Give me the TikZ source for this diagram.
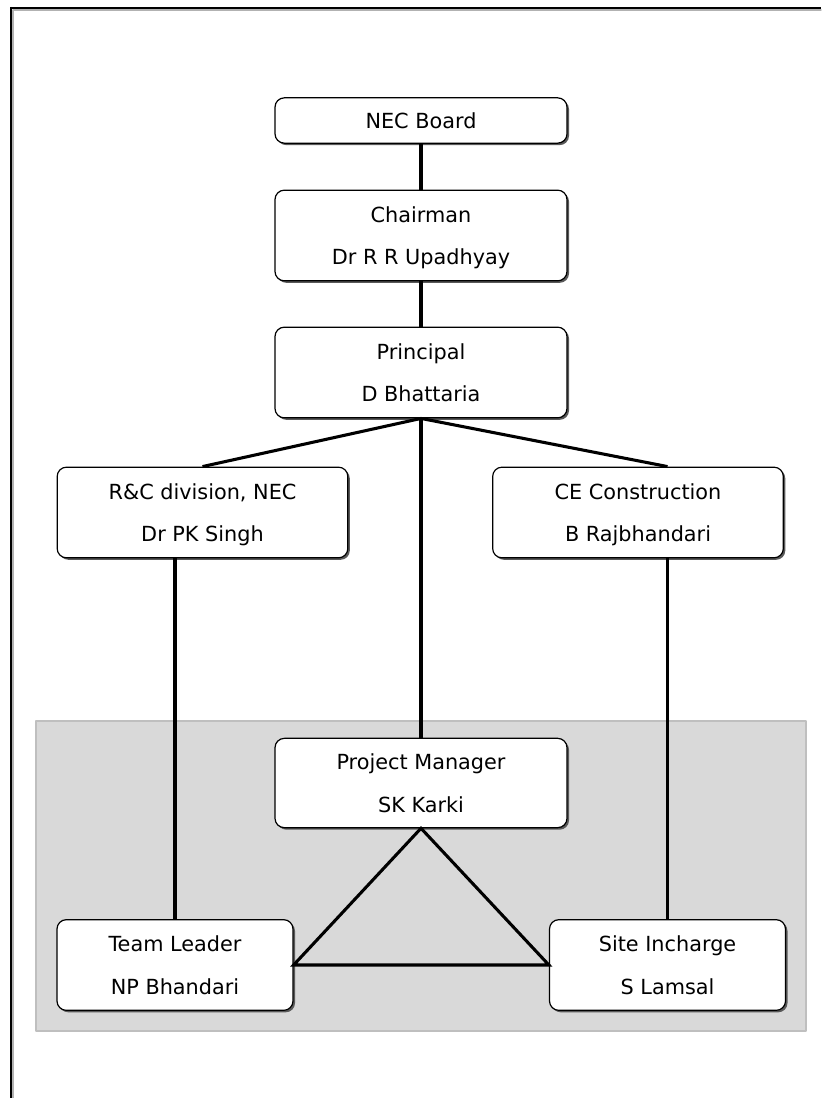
\documentclass[tikz,border=0pt]{standalone}
\usepackage{fontspec}
\setmainfont{DejaVu Sans}
\usetikzlibrary{shadows}
\begin{document}
\begin{tikzpicture}[x=.75pt,y=-.75pt,line join=round,line cap=round,
		font=\fontsize{15.6}{32}\selectfont,
		box/.style={draw,line width=.9pt,fill=white,rounded corners=7pt,align=center,
			minimum width=219pt,minimum height=68pt,inner sep=0pt,text depth=-6pt,
			drop shadow={shadow xshift=1.5pt,shadow yshift=-1.5pt,fill=black!65,opacity=1}},
		link/.style={line width=2.3pt,line cap=butt}]
			\def\gx{36} \def\gy{721} \def\gX{806} \def\gY{1031} % vung xam
			\useasboundingbox (0,0) rectangle (821,1098);
			\draw[gray!60,line width=1pt] (13,10)--(821,10) (13,10)--(13,1098);
			\draw[line width=2pt,line cap=butt] (11,8)--(821,8) (11,7)--(11,1098);
			\fill[gray!30,draw=gray!50,line width=.8pt] (\gx,\gy) rectangle (\gX,\gY);
			\node[box,minimum height=34pt,text depth=-4pt] (board) at (421,120.5){NEC Board};
			\node[box] (chair) at (421,235.5){Chairman\\Dr R R Upadhyay};
			\node[box] (prin) at (421,372.5){Principal\\D Bhattaria};
			\node[box,minimum width=218pt] (rc) at (202.5,512.5){R\&C division, NEC\\Dr PK Singh};
			\node[box,minimum width=218pt] (ce) at (638,512.5){CE Construction\\B Rajbhandari};
			\node[box,minimum height=67pt] (pm) at (421,783){Project Manager\\SK Karki};
			\node[box,minimum width=177pt] (team) at (175,965){Team Leader\\NP Bhandari};
			\node[box,minimum width=177pt] (site) at (667.5,965){Site Incharge\\S Lamsal};
			\draw[link] (board)--(chair) (chair)--(prin) (prin.south)--(pm.north);
			\draw[link] (prin.south)--(rc.north) (prin.south)--(ce.north-|site.north);
			\draw[link] (rc.south-|team.north)--(team.north) (ce.south-|site.north)--(site.north);
			\draw[link,line join=miter] (pm.south)--(team.east)--(site.west)--cycle;
		\end{tikzpicture}
\end{document}
